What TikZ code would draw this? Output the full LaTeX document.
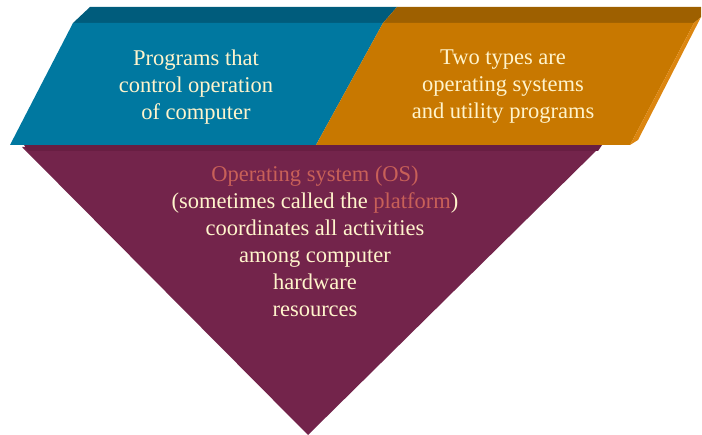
\documentclass[tikz,border=0pt]{standalone}
\usepackage{fontspec}
\setmainfont{Liberation Serif}
\definecolor{bluefront}{RGB}{0,120,160}
\definecolor{bluetop}{RGB}{0,92,124}
\definecolor{orfront}{RGB}{200,120,0}
\definecolor{ortop}{RGB}{158,96,0}
\definecolor{orside}{RGB}{220,134,16}
\definecolor{purp}{RGB}{115,36,75}
\definecolor{purptop}{RGB}{104,30,66}
\definecolor{cream}{RGB}{255,244,204}
\definecolor{salmon}{RGB}{200,96,88}
\begin{document}
\begin{tikzpicture}[x=1pt,y=-1pt,
  lbl/.style={align=center,text=cream,font=\fontsize{22.5}{27}\selectfont}]
\useasboundingbox (0,0) rectangle (702,435);
% purple triangle
\fill[purp] (22,147) -- (600,147) -- (308,435) -- cycle;
\fill[purptop] (24,145) -- (602,145) -- (598,151) -- (28,151) -- cycle;
% top strips
\fill[bluetop] (90,7) -- (397,7) -- (383,23) -- (73,23) -- cycle;
\fill[ortop] (397,7) -- (701,7) -- (701,17) -- (694,23) -- (383,23) -- cycle;
% fronts
\fill[bluefront] (73,23) -- (383,23) -- (316,145) -- (10,145) -- cycle;
\fill[orfront] (383,23) -- (694,23) -- (630,145) -- (316,145) -- cycle;
\fill[orside] (694,23) -- (701,17) -- (638,140) -- (630,145) -- cycle;
% texts
\node[lbl] (left) at (196,87) {Programs that\\control operation\\of computer};
\node[lbl] (right) at (503,87) {Two types are\\operating systems\\and utility programs};
\node[lbl] (os) at (315,241) {\textcolor{salmon}{Operating system (OS)}\\(sometimes called the \textcolor{salmon}{platform})\\coordinates all activities\\among computer\\hardware\\resources};
\end{tikzpicture}
\end{document}
